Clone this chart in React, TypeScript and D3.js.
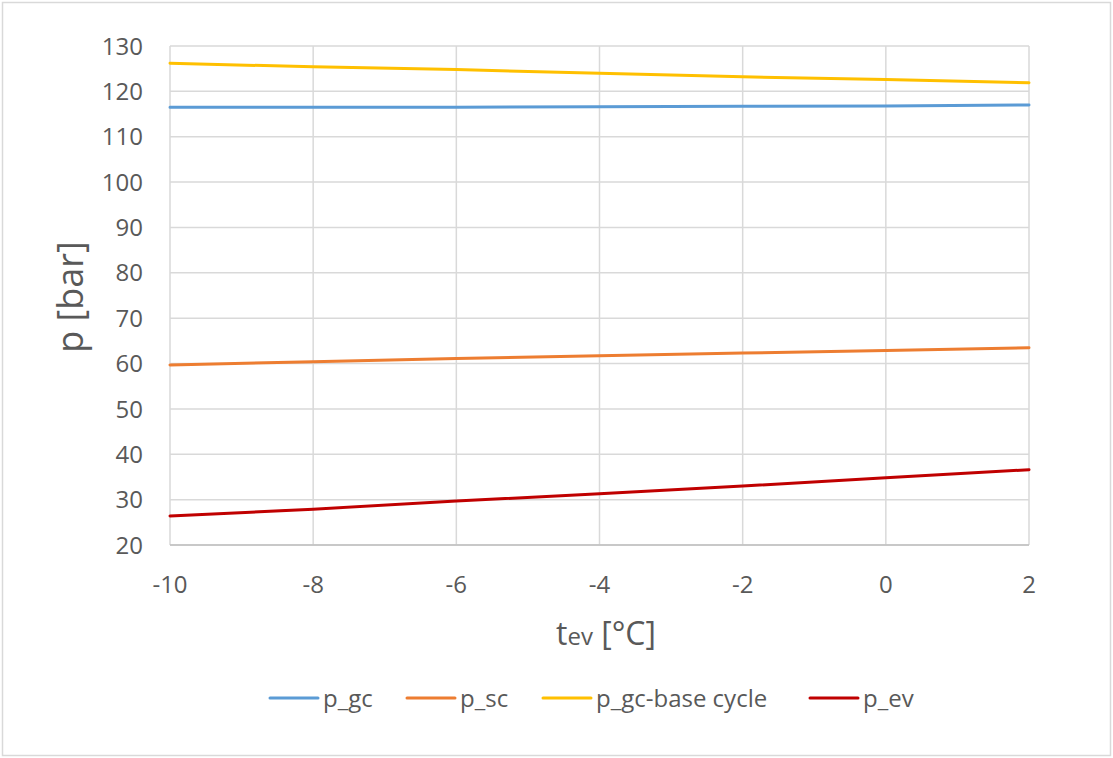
import React from "react";
import * as d3 from "d3";

// Evaporation temperature [°C]
const tEv = [-10, -8, -6, -4, -2, 0, 2];

// Pressures [bar]
const pGc = [116.5, 116.5, 116.5, 116.6, 116.7, 116.8, 117.0];
const pSc = [59.7, 60.4, 61.1, 61.7, 62.3, 62.9, 63.5];
const pGcBase = [126.2, 125.4, 124.8, 124.0, 123.2, 122.6, 121.9];
const pEv = [26.4, 27.9, 29.7, 31.3, 33.0, 34.8, 36.6];

const xTicks = [-10, -8, -6, -4, -2, 0, 2];
const yTicks = [20, 30, 40, 50, 60, 70, 80, 90, 100, 110, 120, 130];

const seriesNames = ["p_gc", "p_sc", "p_gc-base cycle", "p_ev"];
const seriesValues = [pGc, pSc, pGcBase, pEv];
const seriesColors = ["#5B9BD5", "#ED7D31", "#FFC000", "#C00000"];

const W = 1113;
const H = 758;
const plot = { left: 170, right: 1029, top: 46, bottom: 545 };
const FONT = "'Open Sans', 'Noto Sans', sans-serif";
const TEXT = "#595959";

export default function App() {
  const x = d3.scaleLinear().domain([-10, 2]).range([plot.left, plot.right]);
  const y = d3.scaleLinear().domain([20, 130]).range([plot.bottom, plot.top]);
  const line = d3
    .line<number>()
    .x((_, i) => x(tEv[i]))
    .y((d) => y(d));

  // legend layout: swatch then label, items laid out left to right
  const legendX = [270, 407, 543, 810];
  const legendY = 698;
  const swatch = 48;

  return (
    <svg
      width={W}
      height={H}
      style={{ position: "absolute", left: 0, top: 0, background: "#fff" }}
      fontFamily={FONT}
    >
      <rect x={2.5} y={2.5} width={W - 5} height={H - 5} fill="#fff" stroke="#d9d9d9" strokeWidth={1.5} />

      {/* gridlines */}
      {yTicks.map((t) => (
        <line key={"gy" + t} x1={plot.left} x2={plot.right} y1={y(t)} y2={y(t)} stroke="#d9d9d9" strokeWidth={1.5} />
      ))}
      {xTicks.map((t) => (
        <line key={"gx" + t} x1={x(t)} x2={x(t)} y1={plot.top} y2={plot.bottom} stroke="#d9d9d9" strokeWidth={1.5} />
      ))}
      <line x1={plot.left} x2={plot.right} y1={plot.bottom} y2={plot.bottom} stroke="#bfbfbf" strokeWidth={1.5} />

      {/* y tick labels */}
      {yTicks.map((t) => (
        <text key={"ly" + t} x={143} y={y(t)} dy="0.36em" textAnchor="end" fontSize={24} fill={TEXT}>
          {t}
        </text>
      ))}
      {/* x tick labels */}
      {xTicks.map((t) => (
        <text key={"lx" + t} x={x(t)} y={593} textAnchor="middle" fontSize={24} fill={TEXT}>
          {t}
        </text>
      ))}

      {/* axis titles */}
      <text transform="translate(83,297) rotate(-90)" textAnchor="middle" fontSize={36} fill={TEXT}>
        p [bar]
      </text>
      <text x={606} y={645} textAnchor="middle" fontSize={32} fill={TEXT}>
        t<tspan fontSize={24}>ev</tspan> [°C]
      </text>

      {/* series */}
      {seriesValues.map((vals, i) => (
        <path key={seriesNames[i]} d={line(vals) || ""} fill="none" stroke={seriesColors[i]} strokeWidth={3} strokeLinecap="round" />
      ))}

      {/* legend */}
      {seriesNames.map((name, i) => (
        <g key={"leg" + name}>
          <line x1={legendX[i]} x2={legendX[i] + swatch} y1={legendY} y2={legendY} stroke={seriesColors[i]} strokeWidth={3} strokeLinecap="round" />
          <text x={legendX[i] + swatch + 5} y={legendY} dy="0.36em" fontSize={24} fill={TEXT}>
            {name}
          </text>
        </g>
      ))}
    </svg>
  );
}
